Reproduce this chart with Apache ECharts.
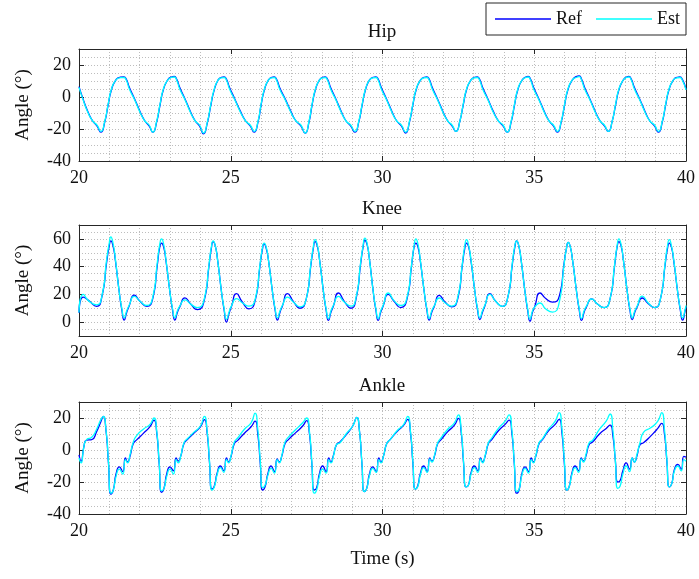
<!DOCTYPE html>
<html>
<head>
<meta charset="utf-8">
<script src="https://cdn.jsdelivr.net/npm/echarts@6/dist/echarts.min.js"></script>
<style>
  html, body { margin: 0; padding: 0; background: #fff; }
  #chart { width: 699px; height: 579px; }
</style>
</head>
<body>
<div id="chart"></div>
<script>
// time ticks and per-joint y ticks
const xTicks = [20, 25, 30, 35, 40];
const hipTicks = [-40, -20, 0, 20];
const kneeTicks = [0, 20, 40, 60];
const ankleTicks = [-40, -20, 0, 20];

// hip angle (deg)
const hipT = [
  20.00, 20.13, 20.29, 20.45, 20.59,
  20.72, 20.85, 20.96, 21.07, 21.21, 21.34, 21.48, 21.56, 21.66, 21.84, 22.01, 22.17, 22.31,
  22.43, 22.56, 22.67, 22.78, 22.92, 23.04, 23.14, 23.22, 23.32, 23.50, 23.67, 23.83, 23.97,
  24.10, 24.23, 24.34, 24.45, 24.58, 24.69, 24.78, 24.86, 24.96, 25.14, 25.32, 25.49, 25.64,
  25.77, 25.90, 26.00, 26.11, 26.24, 26.35, 26.43, 26.51, 26.61, 26.80, 26.98, 27.15, 27.31,
  27.45, 27.58, 27.68, 27.79, 27.92, 28.03, 28.11, 28.19, 28.29, 28.47, 28.64, 28.80, 28.95,
  29.09, 29.22, 29.33, 29.44, 29.57, 29.69, 29.78, 29.86, 29.96, 30.14, 30.31, 30.47, 30.62,
  30.76, 30.89, 31.00, 31.11, 31.25, 31.37, 31.46, 31.54, 31.64, 31.82, 31.99, 32.15, 32.29,
  32.42, 32.55, 32.66, 32.77, 32.91, 33.03, 33.12, 33.20, 33.30, 33.48, 33.65, 33.82, 33.97,
  34.11, 34.24, 34.35, 34.46, 34.60, 34.72, 34.80, 34.88, 34.98, 35.16, 35.33, 35.49, 35.63,
  35.76, 35.89, 36.00, 36.11, 36.25, 36.38, 36.48, 36.56, 36.66, 36.84, 37.01, 37.17, 37.31,
  37.44, 37.57, 37.68, 37.79, 37.93, 38.04, 38.12, 38.20, 38.30, 38.48, 38.65, 38.81, 38.96,
  39.09, 39.22, 39.33, 39.44, 39.58, 39.70, 39.80, 39.88, 40.00
];
const hipRef = [
  6.5, -1, -9, -15, -18,
  -22, -15.5, -5, 4.5, 10.5, 12.3, 12.5, 11, 6, -1.5, -9, -15, -18,
  -22, -15.5, -5, 4.5, 10.5, 12.5, 12.9, 11, 6, -1.5, -9, -15, -18,
  -23, -16, -5.5, 4, 10.5, 12.3, 12.5, 11, 6, -1.5, -9, -15, -18,
  -22, -15.5, -5, 4.5, 10.5, 12.3, 12.5, 11, 6, -1.5, -9, -15, -18,
  -22.5, -15.5, -5, 4.5, 10.5, 12.3, 12.5, 11, 6, -1.5, -9, -15, -18,
  -22, -15.5, -5, 4.5, 10.5, 12.3, 12.5, 11, 6, -1.5, -9, -15, -18,
  -22.5, -15.5, -5, 4.5, 10.5, 12.3, 12.5, 11, 6, -1.5, -9, -15, -18,
  -21.5, -15, -5, 4.5, 10.5, 12.3, 12.5, 11, 6, -1.5, -9, -15, -18,
  -22, -15.5, -5, 4.5, 10.5, 12.5, 12.9, 11, 6, -1.5, -9, -15, -18,
  -22, -15.5, -5, 4.5, 10.5, 12.7, 13.2, 11, 6, -1.5, -9, -15, -18,
  -21.5, -15, -5, 4.5, 10.5, 12.5, 12.9, 11, 6, -1.5, -9, -15, -18,
  -22, -15.5, -5, 4.5, 10.5, 12.3, 12.5, 11, 5
];
const hipEst = [
  6, -1.5, -9.5, -15, -17.5,
  -21.5, -15, -4.5, 5, 10.5, 12, 12.2, 10.5, 5, -2, -9.5, -15, -17.5,
  -22, -15, -4.5, 5, 10.5, 12.2, 12.5, 10.5, 5, -2, -9.5, -15, -17.5,
  -22.5, -15.5, -5, 4.5, 10.5, 12, 12.2, 10.5, 5, -2, -9.5, -15, -17.5,
  -21.5, -15, -4.5, 5, 10.5, 12, 12.2, 10.5, 5, -2, -9.5, -15, -17.5,
  -22.5, -15, -4.5, 5, 10.5, 12, 12.2, 10.5, 5, -2, -9.5, -15, -17.5,
  -21.5, -15, -4.5, 5, 10.5, 12, 12.2, 10.5, 5, -2, -9.5, -15, -17.5,
  -22, -15, -4.5, 5, 10.5, 12, 12.2, 10.5, 5, -2, -9.5, -15, -17.5,
  -21.5, -15, -4.5, 5, 10.5, 12, 12.2, 10.5, 5, -2, -9.5, -15, -17.5,
  -22, -15, -4.5, 5, 10.5, 12.2, 12.5, 10.5, 5, -2, -9.5, -15, -17.5,
  -21.5, -15, -4.5, 5, 10.5, 12.2, 12.7, 10.5, 5, -2, -9.5, -15, -17.5,
  -21.5, -15, -4.5, 5, 10.5, 12.2, 12.5, 10.5, 5, -2, -9.5, -15, -17.5,
  -21.5, -15, -4.5, 5, 10.5, 12, 12.2, 10.5, 4.5
];

// knee angle (deg)
const kneeT = [
  20.00, 20.14, 20.31, 20.58, 20.76, 20.91, 20.99,
  21.05, 21.12, 21.19, 21.33, 21.41, 21.49, 21.57, 21.65, 21.82, 22.01, 22.23, 22.43, 22.58, 22.66,
  22.72, 22.79, 22.86, 23.00, 23.08, 23.16, 23.24, 23.32, 23.49, 23.68, 23.90, 24.13, 24.28, 24.36,
  24.42, 24.49, 24.56, 24.70, 24.78, 24.86, 24.94, 25.02, 25.19, 25.38, 25.60, 25.81, 25.96, 26.04,
  26.10, 26.17, 26.24, 26.38, 26.46, 26.54, 26.62, 26.70, 26.87, 27.06, 27.28, 27.49, 27.64, 27.72,
  27.78, 27.85, 27.92, 28.06, 28.14, 28.22, 28.30, 28.38, 28.55, 28.74, 28.96, 29.13, 29.28, 29.36,
  29.42, 29.49, 29.56, 29.70, 29.78, 29.86, 29.94, 30.02, 30.19, 30.38, 30.60, 30.81, 30.96, 31.04,
  31.10, 31.17, 31.24, 31.38, 31.46, 31.54, 31.62, 31.70, 31.87, 32.06, 32.28, 32.48, 32.63, 32.71,
  32.77, 32.84, 32.91, 33.05, 33.13, 33.21, 33.29, 33.37, 33.54, 33.73, 33.95, 34.13, 34.28, 34.36,
  34.42, 34.49, 34.56, 34.70, 34.78, 34.86, 34.94, 35.02, 35.19, 35.38, 35.60, 35.83, 35.98, 36.06,
  36.12, 36.19, 36.26, 36.40, 36.48, 36.56, 36.64, 36.72, 36.89, 37.08, 37.30, 37.50, 37.65, 37.73,
  37.79, 37.86, 37.93, 38.07, 38.15, 38.23, 38.31, 38.39, 38.56, 38.75, 38.97, 39.16, 39.31, 39.39,
  39.45, 39.52, 39.59, 39.73, 39.81, 39.89, 39.97, 40.00
];
const kneeRef = [
  6.7, 18, 15.7, 11.4, 19, 43, 54,
  58.5, 55, 46, 21, 9, 1.5, 7, 11.5, 19.5, 15, 11.4, 17, 41, 54,
  57, 54, 45, 21, 9, 1.5, 7, 11, 17.5, 13, 9, 16, 40, 53,
  58, 55, 46, 21, 9, 0, 6, 11, 20.5, 14.5, 9.5, 16, 40, 52,
  56.5, 53, 45, 21, 9, 1.5, 7, 11.5, 20.5, 15, 10, 17, 41, 53,
  58, 55, 46, 21, 9, 1.2, 7, 11.5, 21, 15, 10, 17, 42, 54,
  59, 56, 47, 21, 9, 1.2, 7, 11.5, 20, 15, 10.5, 17, 41, 54,
  57, 54, 45, 21, 9, 1.5, 7, 11, 19.3, 14.5, 11, 17, 41, 53,
  57, 54, 45, 21, 9, 1.9, 7, 11.5, 20.5, 15, 11.4, 18, 42, 54,
  58.5, 55, 46, 21, 9, 0.7, 7, 11.5, 21, 17, 14.4, 19, 42, 53,
  57.5, 54, 45, 21, 9, 1.2, 7, 11, 16.8, 13, 10.5, 17, 41, 54,
  58, 55, 46, 21, 9, 1.9, 7, 11, 17.4, 13.5, 10.5, 17, 41, 53,
  57, 54, 45, 21, 9, 1.5, 8, 11
];
const kneeEst = [
  7, 20, 15.5, 12.5, 19.5, 45, 56,
  61.5, 57, 47, 21, 10, 3, 8, 12, 18.5, 15, 12, 18, 43, 56,
  60, 56, 46, 21, 10, 3, 8, 11.5, 16, 13, 10.5, 17, 41, 54,
  58.5, 55, 46, 21, 10, 2, 7, 11.5, 17, 14, 11.5, 17, 41, 53,
  57, 54, 45, 21, 10, 3, 8, 12, 18, 14.5, 11, 17, 42, 54,
  59.5, 56, 46, 21, 10, 2.5, 8, 12, 18.5, 14.5, 11.5, 18, 43, 55,
  60.5, 57, 47, 21, 10, 2.5, 8, 12, 21, 15.5, 12, 18, 42, 55,
  60, 56, 46, 21, 10, 2.5, 8, 11.5, 17.4, 14, 11.5, 18, 42, 55,
  59.5, 55, 46, 21, 10, 3, 8, 12, 20, 15, 11.4, 18, 43, 55,
  58.5, 55, 46, 21, 10, 2, 8, 11, 13.8, 9.5, 7.2, 15, 41, 53,
  57.5, 54, 45, 21, 10, 2.5, 8, 11.5, 16.8, 13, 10.5, 17, 42, 55,
  60, 56, 46, 21, 10, 3, 8, 11.5, 18.8, 14, 10.5, 17, 42, 55,
  59.5, 55, 46, 21, 10, 3, 9, 12
];

// ankle angle (deg)
const ankleT = [
  20.00, 20.07, 20.16, 20.25, 20.42, 20.58, 20.72,
  20.80, 20.89, 20.97, 21.05, 21.13, 21.22, 21.33, 21.44, 21.53, 21.60, 21.68, 21.79, 21.90, 22.12, 22.34,
  22.47, 22.56, 22.64, 22.72, 22.80, 22.89, 23.00, 23.11, 23.20, 23.27, 23.35, 23.46, 23.57, 23.78, 24.00,
  24.13, 24.22, 24.30, 24.38, 24.46, 24.55, 24.66, 24.77, 24.86, 24.93, 25.01, 25.12, 25.23, 25.45, 25.67,
  25.80, 25.89, 25.97, 26.05, 26.13, 26.22, 26.33, 26.44, 26.53, 26.60, 26.68, 26.79, 26.90, 27.15, 27.37,
  27.50, 27.59, 27.67, 27.75, 27.83, 27.92, 28.03, 28.14, 28.23, 28.30, 28.38, 28.49, 28.60, 28.80, 29.02,
  29.15, 29.24, 29.32, 29.40, 29.48, 29.57, 29.68, 29.79, 29.88, 29.95, 30.03, 30.14, 30.25, 30.48, 30.70,
  30.83, 30.92, 31.00, 31.08, 31.16, 31.25, 31.36, 31.47, 31.56, 31.63, 31.71, 31.82, 31.93, 32.15, 32.37,
  32.50, 32.59, 32.67, 32.75, 32.83, 32.92, 33.03, 33.14, 33.23, 33.30, 33.38, 33.49, 33.60, 33.82, 34.04,
  34.17, 34.26, 34.34, 34.42, 34.50, 34.59, 34.70, 34.81, 34.90, 34.97, 35.05, 35.16, 35.27, 35.47, 35.69,
  35.82, 35.91, 35.99, 36.07, 36.15, 36.24, 36.35, 36.46, 36.55, 36.62, 36.70, 36.81, 36.92, 37.15, 37.37,
  37.50, 37.59, 37.67, 37.75, 37.83, 37.92, 38.03, 38.14, 38.23, 38.30, 38.38, 38.49, 38.60, 38.85, 39.07,
  39.20, 39.29, 39.37, 39.45, 39.53, 39.62, 39.73, 39.84, 39.93, 40.00
];
const ankleRef = [
  -3, -7, 2, 6.2, 6.5, 11.5, 17.7,
  21, 12, -8, -27.5, -25, -15, -10.5, -13.5, -5, -7.5, -4, 4, 6.3, 10.4, 14.6,
  18.7, 11, -8, -26.4, -24, -15, -10.5, -13, -5, -7, -4, 4, 6.5, 10.5, 14.5,
  19, 11, -8, -24.4, -22.5, -14.5, -10, -13, -5, -7.5, -4, 4, 6, 10.5, 14.5,
  18, 10, -8, -25, -23, -15, -10, -13.5, -5.5, -7.5, -4, 4, 6.5, 11, 15,
  18.3, 10.5, -8, -25, -23.5, -15, -10, -13.5, -5, -7.5, -3.5, 3.5, 5, 9.5, 15,
  20.4, 12, -8, -26, -24, -15, -10.5, -13.5, -5, -7.5, -4, 4, 6.5, 11.5, 15.5,
  19.2, 11, -8, -24.4, -22.5, -14.5, -10, -13.5, -5, -7, -4, 4, 6.5, 11.5, 15.5,
  19.8, 11.5, -8, -23, -22, -14, -10, -13, -5, -7.5, -4, 4, 6.5, 12, 16,
  18.7, 11, -8, -27, -25, -15, -10.5, -13.5, -5, -7.5, -4, 4, 6.5, 12, 16,
  19.2, 11, -8, -25, -23, -14.5, -10, -13, -5, -7, -4, 3.5, 5, 10, 13.5,
  15.6, 9, -6, -20, -19, -13, -8, -12, -5, -7.5, -4, 3.5, 4.5, 9, 13.5,
  16.7, 10, -7, -23, -21, -12, -9, -12, -4, -4.5
];
const ankleEst = [
  -5, -8, 2, 6.5, 8, 13, 19,
  21, 12.5, -7, -27, -25, -16.5, -12, -15, -6, -8, -3, 5, 9, 13, 16,
  20, 12, -7, -25.5, -24, -16.5, -12, -15, -6, -8, -4, 4.5, 7, 11, 15,
  21, 12, -7, -25, -23, -15.5, -11, -14, -6, -8, -3.5, 5, 7.5, 13, 17,
  23, 13, -6, -23.5, -22, -16, -11.5, -14.5, -6, -8, -3.5, 5, 8, 13, 17,
  20, 12, -7, -27, -25, -16.5, -12, -14.5, -6, -8, -4, 3.5, 4.5, 10, 15,
  20.4, 12, -7.5, -26, -24, -16, -11.5, -14, -6, -8, -4, 4, 6.5, 12, 16,
  21, 12, -7, -24.4, -23, -15.5, -11, -14, -5.5, -7.5, -3.5, 4.5, 7.5, 13, 17,
  22, 13, -7, -23, -22, -15, -11, -14, -5.5, -8, -3.5, 4.5, 7.5, 13.5, 18,
  22, 13, -7, -26, -24.5, -16, -11.5, -14.5, -6, -8, -3.5, 4.5, 7, 13, 18,
  23.3, 13.5, -6, -25, -23, -15.5, -11, -14, -5.5, -7.5, -3, 4.5, 6, 13, 18,
  22.5, 12.5, -6, -24, -22.5, -15, -10, -13.5, -5, -7.5, -3, 5, 11, 14, 18,
  23.3, 13, -6, -23, -21, -13, -10, -13, -6, -7
];

const FONT = 'Liberation Serif';
const AXIS_COLOR = '#262626';
const GRID_LINE = { show: true, lineStyle: { color: '#bdbdbd', width: 1, type: [1, 2] } };

const grids = [
  { left: 79, right: 13, top: 49, height: 112 },
  { left: 79, right: 13, top: 225, height: 111 },
  { left: 79, right: 13, top: 402, height: 112 }
];
const yRanges = [[-40, 30], [-10, 70], [-40, 30]];
const yTickSets = [hipTicks, kneeTicks, ankleTicks];
const titles = ['Hip', 'Knee', 'Ankle'];
const titleTops = [23, 200, 377];

const xAxes = [];
const yAxes = [];
for (let i = 0; i < 3; i++) {
  xAxes.push({
    type: 'value', gridIndex: i, position: 'bottom', min: 20, max: 40, interval: 5,
    axisLine: { show: true, onZero: false, lineStyle: { color: AXIS_COLOR } },
    axisTick: { inside: true, length: 5, lineStyle: { color: AXIS_COLOR } },
    axisLabel: { fontFamily: FONT, fontSize: 18, color: '#111', margin: 8 },
    splitLine: GRID_LINE,
    minorTick: { show: false, splitNumber: 5 },
    minorSplitLine: GRID_LINE,
    name: i === 2 ? 'Time (s)' : '',
    nameLocation: 'middle', nameGap: 36,
    nameTextStyle: { fontFamily: FONT, fontSize: 19, color: '#111' }
  });
}
for (let i = 0; i < 3; i++) {
  // top edge of the box
  xAxes.push({
    type: 'value', gridIndex: i, position: 'top', min: 20, max: 40, interval: 5,
    axisLine: { show: true, onZero: false, lineStyle: { color: AXIS_COLOR } },
    axisTick: { inside: true, length: 5, lineStyle: { color: AXIS_COLOR } },
    axisLabel: { show: false }, splitLine: { show: false }
  });
}
for (let i = 0; i < 3; i++) {
  yAxes.push({
    type: 'value', gridIndex: i, position: 'left', min: yRanges[i][0], max: yRanges[i][1],
    axisLine: { show: true, onZero: false, lineStyle: { color: AXIS_COLOR } },
    axisTick: { inside: true, length: 5, customValues: yTickSets[i], lineStyle: { color: AXIS_COLOR } },
    axisLabel: { fontFamily: FONT, fontSize: 18, color: '#111', margin: 8, customValues: yTickSets[i] },
    splitLine: { show: false },
    name: 'Angle (°)', nameLocation: 'middle', nameGap: 46,
    nameTextStyle: { fontFamily: FONT, fontSize: 19, color: '#111' }
  });
}
for (let i = 0; i < 3; i++) {
  // right edge of the box
  yAxes.push({
    type: 'value', gridIndex: i, position: 'right', min: yRanges[i][0], max: yRanges[i][1],
    axisLine: { show: true, onZero: false, lineStyle: { color: AXIS_COLOR } },
    axisTick: { inside: true, length: 5, customValues: yTickSets[i], lineStyle: { color: AXIS_COLOR } },
    axisLabel: { show: false }, splitLine: { show: false }
  });
}
for (let i = 0; i < 3; i++) {
  // only the dotted horizontal grid, every 5 deg
  yAxes.push({
    type: 'value', gridIndex: i, position: 'left', min: yRanges[i][0], max: yRanges[i][1], interval: 5,
    axisLine: { show: false }, axisTick: { show: false }, axisLabel: { show: false },
    splitLine: GRID_LINE
  });
}

function pairs(t, v) {
  return t.map((x, k) => [x, v[k]]);
}
const joints = [[hipT, hipRef, hipEst], [kneeT, kneeRef, kneeEst], [ankleT, ankleRef, ankleEst]];
const series = [];
joints.forEach((j, i) => {
  series.push({
    name: 'Ref', type: 'line', xAxisIndex: i, yAxisIndex: i, data: pairs(j[0], j[1]),
    symbol: 'none', smooth: 0.6,
    lineStyle: { color: '#0000ff', width: 1.3 }, itemStyle: { color: '#0000ff' }, z: 3
  });
  series.push({
    name: 'Est', type: 'line', xAxisIndex: i, yAxisIndex: i, data: pairs(j[0], j[2]),
    symbol: 'none', smooth: 0.6,
    lineStyle: { color: '#00ffff', width: 1.3 }, itemStyle: { color: '#00ffff' }, z: 4
  });
});

const chart = echarts.init(document.getElementById('chart'));
chart.setOption({
  animation: false,
  backgroundColor: '#fff',
  title: titles.map((t, i) => ({
    text: t, left: 382, top: titleTops[i], textAlign: 'center', padding: 0,
    textStyle: { fontFamily: FONT, fontSize: 19, fontWeight: 'normal', color: '#111' }
  })),
  legend: {
    data: ['Ref', 'Est'], right: 13, top: 3,
    icon: 'rect', itemWidth: 56, itemHeight: 1.5, itemGap: 14,
    padding: [7, 6, 7, 9],
    borderColor: AXIS_COLOR, borderWidth: 1, backgroundColor: '#fff',
    textStyle: { fontFamily: FONT, fontSize: 18, color: '#111' }
  },
  grid: grids,
  xAxis: xAxes,
  yAxis: yAxes,
  series: series
});
</script>
</body>
</html>
